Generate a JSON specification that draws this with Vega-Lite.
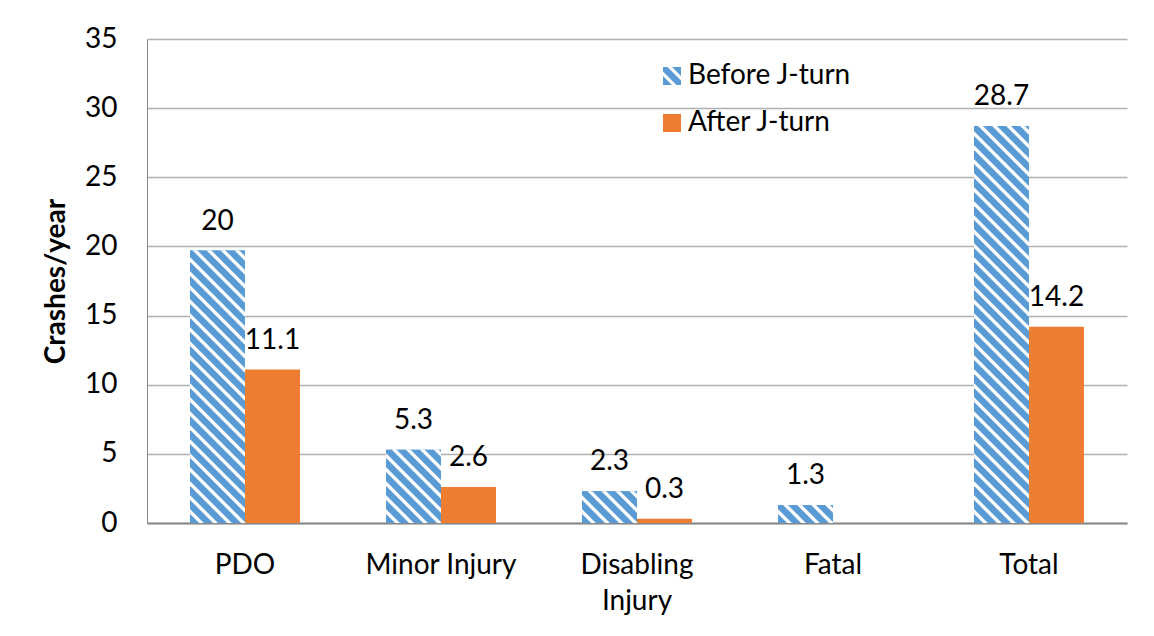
{
  "$schema": "https://vega.github.io/schema/vega-lite/v6.json",
  "autosize": "none",
  "width": 980,
  "height": 484,
  "padding": {"left": 147, "top": 39, "right": 27, "bottom": 113},
  "background": "white",
  "config": {"font": "Lato", "view": {"stroke": null}},
  "data": {"values": [
    {"category": "PDO", "period": "Before J-turn", "value": 19.7, "label": "20"},
    {"category": "PDO", "period": "After J-turn", "value": 11.1, "label": "11.1"},
    {"category": "Minor Injury", "period": "Before J-turn", "value": 5.3, "label": "5.3"},
    {"category": "Minor Injury", "period": "After J-turn", "value": 2.6, "label": "2.6"},
    {"category": "Disabling Injury", "period": "Before J-turn", "value": 2.3, "label": "2.3"},
    {"category": "Disabling Injury", "period": "After J-turn", "value": 0.3, "label": "0.3"},
    {"category": "Fatal", "period": "Before J-turn", "value": 1.3, "label": "1.3"},
    {"category": "Fatal", "period": "After J-turn", "value": 0, "label": ""},
    {"category": "Total", "period": "Before J-turn", "value": 28.7, "label": "28.7"},
    {"category": "Total", "period": "After J-turn", "value": 14.2, "label": "14.2"}
  ]},
  "encoding": {
    "x": {"field": "category", "type": "nominal",
      "sort": ["PDO", "Minor Injury", "Disabling Injury", "Fatal", "Total"],
      "scale": {"domain": ["PDO", "Minor Injury", "Disabling Injury", "Fatal", "Total"], "paddingInner": 0.43878, "paddingOuter": 0.21939},
      "axis": {"title": null, "labelAngle": 0, "domainColor": "#898989", "domainWidth": 2, "ticks": false, "tickSize": 0, "grid": false,
        "labelFontSize": 28, "labelColor": "#000000", "labelPadding": 28, "labelLineHeight": 36,
        "labelExpr": "datum.label == 'Disabling Injury' ? ['Disabling', 'Injury'] : datum.label"}},
    "xOffset": {"field": "period", "type": "nominal", "sort": ["Before J-turn", "After J-turn"],
      "scale": {"domain": ["Before J-turn", "After J-turn"], "paddingInner": 0, "paddingOuter": 0}},
    "y": {"field": "value", "type": "quantitative",
      "scale": {"domain": [0, 35], "nice": false, "zero": true},
      "axis": {"title": "Crashes/year", "values": [0, 5, 10, 15, 20, 25, 30, 35], "grid": true, "gridColor": "#B0B0B0", "gridWidth": 1.3,
        "domainColor": "#898989", "domainWidth": 1, "ticks": false, "tickSize": 0, "labelPadding": 30,
        "labelFontSize": 28, "labelColor": "#000000", "titleFontSize": 28, "titleFontWeight": "bold", "titleColor": "#000000",
        "titleX": -83, "titleY": 242, "titleAngle": 270, "titleBaseline": "alphabetic", "titleAlign": "center"}}
  },
  "layer": [
    {
      "mark": {"type": "bar"},
      "encoding": {
        "color": {"field": "period", "type": "nominal",
          "scale": {"domain": ["Before J-turn", "After J-turn"], "range": ["#5B9BD5", "#ED7D31"]},
          "legend": {"title": null, "orient": "none", "legendX": 511, "legendY": 23, "direction": "vertical",
            "symbolSize": 324, "symbolStrokeWidth": 0, "symbolOpacity": 1, "labelFontSize": 28, "labelColor": "#000000", "labelOffset": 2, "labelLimit": 0, "rowPadding": 19}}
      }
    },
    {
      "mark": {"type": "point", "filled": true, "size": 0, "opacity": 1, "strokeWidth": 0},
      "encoding": {
        "color": {"field": "period", "type": "nominal",
          "scale": {"domain": ["Before J-turn", "After J-turn"], "range": ["#5B9BD5", "#ED7D31"]},
          "legend": {"title": null, "orient": "none", "legendX": 511, "legendY": 23, "direction": "vertical",
            "symbolSize": 324, "symbolStrokeWidth": 0, "symbolOpacity": 1, "labelFontSize": 28, "labelColor": "#000000", "labelOffset": 2, "labelLimit": 0, "rowPadding": 19}},
        "shape": {"field": "period", "type": "nominal",
          "scale": {"domain": ["Before J-turn", "After J-turn"], "range": ["M-1,1L-1,0L0,1ZM-1,-0.5L-1,-1L-0.5,-1L1,0.5L1,1L0.5,1ZM0,-1L1,-1L1,0Z", "square"]},
          "legend": {"title": null, "orient": "none", "legendX": 511, "legendY": 23, "direction": "vertical",
            "symbolSize": 324, "symbolStrokeWidth": 0, "symbolOpacity": 1, "labelFontSize": 28, "labelColor": "#000000", "labelOffset": 2, "labelLimit": 0, "rowPadding": 19}}
      }
    },
    {
      "transform": [{"filter": "datum.category === 'PDO' && datum.period === 'Before J-turn'"}],
      "mark": {"type": "bar", "fill": {"gradient": "linear", "x1": 0, "y1": 1, "x2": 0.39883, "y2": -0.97528, "stops": [
{"offset":0.001,"color":"#5b9bd5"},{"offset":0.0155,"color":"#5b9bd5"},{"offset":0.017,"color":"#fff"},{"offset":0.0235,"color":"#fff"},
{"offset":0.026,"color":"#5b9bd5"},{"offset":0.0405,"color":"#5b9bd5"},{"offset":0.042,"color":"#fff"},{"offset":0.0485,"color":"#fff"},
{"offset":0.051,"color":"#5b9bd5"},{"offset":0.0655,"color":"#5b9bd5"},{"offset":0.067,"color":"#fff"},{"offset":0.0735,"color":"#fff"},
{"offset":0.076,"color":"#5b9bd5"},{"offset":0.0905,"color":"#5b9bd5"},{"offset":0.092,"color":"#fff"},{"offset":0.0985,"color":"#fff"},
{"offset":0.101,"color":"#5b9bd5"},{"offset":0.1155,"color":"#5b9bd5"},{"offset":0.117,"color":"#fff"},{"offset":0.1235,"color":"#fff"},
{"offset":0.126,"color":"#5b9bd5"},{"offset":0.1405,"color":"#5b9bd5"},{"offset":0.142,"color":"#fff"},{"offset":0.1485,"color":"#fff"},
{"offset":0.151,"color":"#5b9bd5"},{"offset":0.1655,"color":"#5b9bd5"},{"offset":0.167,"color":"#fff"},{"offset":0.1735,"color":"#fff"},
{"offset":0.176,"color":"#5b9bd5"},{"offset":0.1905,"color":"#5b9bd5"},{"offset":0.192,"color":"#fff"},{"offset":0.1985,"color":"#fff"},
{"offset":0.201,"color":"#5b9bd5"},{"offset":0.2155,"color":"#5b9bd5"},{"offset":0.217,"color":"#fff"},{"offset":0.2235,"color":"#fff"},
{"offset":0.226,"color":"#5b9bd5"},{"offset":0.2405,"color":"#5b9bd5"},{"offset":0.242,"color":"#fff"},{"offset":0.2485,"color":"#fff"},
{"offset":0.251,"color":"#5b9bd5"},{"offset":0.2655,"color":"#5b9bd5"},{"offset":0.267,"color":"#fff"},{"offset":0.2735,"color":"#fff"},
{"offset":0.276,"color":"#5b9bd5"},{"offset":0.2905,"color":"#5b9bd5"},{"offset":0.292,"color":"#fff"},{"offset":0.2985,"color":"#fff"},
{"offset":0.301,"color":"#5b9bd5"},{"offset":0.3155,"color":"#5b9bd5"},{"offset":0.317,"color":"#fff"},{"offset":0.3235,"color":"#fff"},
{"offset":0.326,"color":"#5b9bd5"},{"offset":0.3405,"color":"#5b9bd5"},{"offset":0.342,"color":"#fff"},{"offset":0.3485,"color":"#fff"},
{"offset":0.351,"color":"#5b9bd5"},{"offset":0.3655,"color":"#5b9bd5"},{"offset":0.367,"color":"#fff"},{"offset":0.3735,"color":"#fff"},
{"offset":0.376,"color":"#5b9bd5"},{"offset":0.3905,"color":"#5b9bd5"},{"offset":0.392,"color":"#fff"},{"offset":0.3985,"color":"#fff"},
{"offset":0.401,"color":"#5b9bd5"},{"offset":0.4155,"color":"#5b9bd5"},{"offset":0.417,"color":"#fff"},{"offset":0.4235,"color":"#fff"},
{"offset":0.426,"color":"#5b9bd5"},{"offset":0.4405,"color":"#5b9bd5"},{"offset":0.442,"color":"#fff"},{"offset":0.4485,"color":"#fff"},
{"offset":0.451,"color":"#5b9bd5"},{"offset":0.4655,"color":"#5b9bd5"},{"offset":0.467,"color":"#fff"},{"offset":0.4735,"color":"#fff"},
{"offset":0.476,"color":"#5b9bd5"},{"offset":0.4905,"color":"#5b9bd5"},{"offset":0.492,"color":"#fff"},{"offset":0.4985,"color":"#fff"},
{"offset":0.501,"color":"#5b9bd5"},{"offset":0.5155,"color":"#5b9bd5"},{"offset":0.517,"color":"#fff"},{"offset":0.5235,"color":"#fff"},
{"offset":0.526,"color":"#5b9bd5"},{"offset":0.5405,"color":"#5b9bd5"},{"offset":0.542,"color":"#fff"},{"offset":0.5485,"color":"#fff"},
{"offset":0.551,"color":"#5b9bd5"},{"offset":0.5655,"color":"#5b9bd5"},{"offset":0.567,"color":"#fff"},{"offset":0.5735,"color":"#fff"},
{"offset":0.576,"color":"#5b9bd5"},{"offset":0.5905,"color":"#5b9bd5"},{"offset":0.592,"color":"#fff"},{"offset":0.5985,"color":"#fff"}
      ]}}
    },
    {
      "transform": [{"filter": "datum.category === 'Minor Injury' && datum.period === 'Before J-turn'"}],
      "mark": {"type": "bar", "fill": {"gradient": "linear", "x1": 0, "y1": 1, "x2": 3.66758, "y2": -3.88789, "stops": [
{"offset":0.001,"color":"#5b9bd5"},{"offset":0.0155,"color":"#5b9bd5"},{"offset":0.017,"color":"#fff"},{"offset":0.0235,"color":"#fff"},
{"offset":0.026,"color":"#5b9bd5"},{"offset":0.0405,"color":"#5b9bd5"},{"offset":0.042,"color":"#fff"},{"offset":0.0485,"color":"#fff"},
{"offset":0.051,"color":"#5b9bd5"},{"offset":0.0655,"color":"#5b9bd5"},{"offset":0.067,"color":"#fff"},{"offset":0.0735,"color":"#fff"},
{"offset":0.076,"color":"#5b9bd5"},{"offset":0.0905,"color":"#5b9bd5"},{"offset":0.092,"color":"#fff"},{"offset":0.0985,"color":"#fff"},
{"offset":0.101,"color":"#5b9bd5"},{"offset":0.1155,"color":"#5b9bd5"},{"offset":0.117,"color":"#fff"},{"offset":0.1235,"color":"#fff"},
{"offset":0.126,"color":"#5b9bd5"},{"offset":0.1405,"color":"#5b9bd5"},{"offset":0.142,"color":"#fff"},{"offset":0.1485,"color":"#fff"},
{"offset":0.151,"color":"#5b9bd5"},{"offset":0.1655,"color":"#5b9bd5"},{"offset":0.167,"color":"#fff"},{"offset":0.1735,"color":"#fff"},
{"offset":0.176,"color":"#5b9bd5"},{"offset":0.1905,"color":"#5b9bd5"},{"offset":0.192,"color":"#fff"},{"offset":0.1985,"color":"#fff"},
{"offset":0.201,"color":"#5b9bd5"},{"offset":0.2155,"color":"#5b9bd5"},{"offset":0.217,"color":"#fff"},{"offset":0.2235,"color":"#fff"},
{"offset":0.226,"color":"#5b9bd5"},{"offset":0.2405,"color":"#5b9bd5"},{"offset":0.242,"color":"#fff"},{"offset":0.2485,"color":"#fff"}
      ]}}
    },
    {
      "transform": [{"filter": "datum.category === 'Disabling Injury' && datum.period === 'Before J-turn'"}],
      "mark": {"type": "bar", "fill": {"gradient": "linear", "x1": 0, "y1": 1, "x2": 7.63094, "y2": -3.41207, "stops": [
{"offset":0.001,"color":"#5b9bd5"},{"offset":0.0155,"color":"#5b9bd5"},{"offset":0.017,"color":"#fff"},{"offset":0.0235,"color":"#fff"},
{"offset":0.026,"color":"#5b9bd5"},{"offset":0.0405,"color":"#5b9bd5"},{"offset":0.042,"color":"#fff"},{"offset":0.0485,"color":"#fff"},
{"offset":0.051,"color":"#5b9bd5"},{"offset":0.0655,"color":"#5b9bd5"},{"offset":0.067,"color":"#fff"},{"offset":0.0735,"color":"#fff"},
{"offset":0.076,"color":"#5b9bd5"},{"offset":0.0905,"color":"#5b9bd5"},{"offset":0.092,"color":"#fff"},{"offset":0.0985,"color":"#fff"},
{"offset":0.101,"color":"#5b9bd5"},{"offset":0.1155,"color":"#5b9bd5"},{"offset":0.117,"color":"#fff"},{"offset":0.1235,"color":"#fff"},
{"offset":0.126,"color":"#5b9bd5"},{"offset":0.1405,"color":"#5b9bd5"},{"offset":0.142,"color":"#fff"},{"offset":0.1485,"color":"#fff"},
{"offset":0.151,"color":"#5b9bd5"},{"offset":0.1655,"color":"#5b9bd5"},{"offset":0.167,"color":"#fff"},{"offset":0.1735,"color":"#fff"}
      ]}}
    },
    {
      "transform": [{"filter": "datum.category === 'Fatal' && datum.period === 'Before J-turn'"}],
      "mark": {"type": "bar", "fill": {"gradient": "linear", "x1": 0, "y1": 1, "x2": 9.19678, "y2": -2.00985, "stops": [
{"offset":0.001,"color":"#5b9bd5"},{"offset":0.0155,"color":"#5b9bd5"},{"offset":0.017,"color":"#fff"},{"offset":0.0235,"color":"#fff"},
{"offset":0.026,"color":"#5b9bd5"},{"offset":0.0405,"color":"#5b9bd5"},{"offset":0.042,"color":"#fff"},{"offset":0.0485,"color":"#fff"},
{"offset":0.051,"color":"#5b9bd5"},{"offset":0.0655,"color":"#5b9bd5"},{"offset":0.067,"color":"#fff"},{"offset":0.0735,"color":"#fff"},
{"offset":0.076,"color":"#5b9bd5"},{"offset":0.0905,"color":"#5b9bd5"},{"offset":0.092,"color":"#fff"},{"offset":0.0985,"color":"#fff"},
{"offset":0.101,"color":"#5b9bd5"},{"offset":0.1155,"color":"#5b9bd5"},{"offset":0.117,"color":"#fff"},{"offset":0.1235,"color":"#fff"},
{"offset":0.126,"color":"#5b9bd5"},{"offset":0.1405,"color":"#5b9bd5"},{"offset":0.142,"color":"#fff"},{"offset":0.1485,"color":"#fff"}
      ]}}
    },
    {
      "transform": [{"filter": "datum.category === 'Total' && datum.period === 'Before J-turn'"}],
      "mark": {"type": "bar", "fill": {"gradient": "linear", "x1": 0, "y1": 1, "x2": 0.19183, "y2": -0.38435, "stops": [
{"offset":0.001,"color":"#5b9bd5"},{"offset":0.0155,"color":"#5b9bd5"},{"offset":0.017,"color":"#fff"},{"offset":0.0235,"color":"#fff"},
{"offset":0.026,"color":"#5b9bd5"},{"offset":0.0405,"color":"#5b9bd5"},{"offset":0.042,"color":"#fff"},{"offset":0.0485,"color":"#fff"},
{"offset":0.051,"color":"#5b9bd5"},{"offset":0.0655,"color":"#5b9bd5"},{"offset":0.067,"color":"#fff"},{"offset":0.0735,"color":"#fff"},
{"offset":0.076,"color":"#5b9bd5"},{"offset":0.0905,"color":"#5b9bd5"},{"offset":0.092,"color":"#fff"},{"offset":0.0985,"color":"#fff"},
{"offset":0.101,"color":"#5b9bd5"},{"offset":0.1155,"color":"#5b9bd5"},{"offset":0.117,"color":"#fff"},{"offset":0.1235,"color":"#fff"},
{"offset":0.126,"color":"#5b9bd5"},{"offset":0.1405,"color":"#5b9bd5"},{"offset":0.142,"color":"#fff"},{"offset":0.1485,"color":"#fff"},
{"offset":0.151,"color":"#5b9bd5"},{"offset":0.1655,"color":"#5b9bd5"},{"offset":0.167,"color":"#fff"},{"offset":0.1735,"color":"#fff"},
{"offset":0.176,"color":"#5b9bd5"},{"offset":0.1905,"color":"#5b9bd5"},{"offset":0.192,"color":"#fff"},{"offset":0.1985,"color":"#fff"},
{"offset":0.201,"color":"#5b9bd5"},{"offset":0.2155,"color":"#5b9bd5"},{"offset":0.217,"color":"#fff"},{"offset":0.2235,"color":"#fff"},
{"offset":0.226,"color":"#5b9bd5"},{"offset":0.2405,"color":"#5b9bd5"},{"offset":0.242,"color":"#fff"},{"offset":0.2485,"color":"#fff"},
{"offset":0.251,"color":"#5b9bd5"},{"offset":0.2655,"color":"#5b9bd5"},{"offset":0.267,"color":"#fff"},{"offset":0.2735,"color":"#fff"},
{"offset":0.276,"color":"#5b9bd5"},{"offset":0.2905,"color":"#5b9bd5"},{"offset":0.292,"color":"#fff"},{"offset":0.2985,"color":"#fff"},
{"offset":0.301,"color":"#5b9bd5"},{"offset":0.3155,"color":"#5b9bd5"},{"offset":0.317,"color":"#fff"},{"offset":0.3235,"color":"#fff"},
{"offset":0.326,"color":"#5b9bd5"},{"offset":0.3405,"color":"#5b9bd5"},{"offset":0.342,"color":"#fff"},{"offset":0.3485,"color":"#fff"},
{"offset":0.351,"color":"#5b9bd5"},{"offset":0.3655,"color":"#5b9bd5"},{"offset":0.367,"color":"#fff"},{"offset":0.3735,"color":"#fff"},
{"offset":0.376,"color":"#5b9bd5"},{"offset":0.3905,"color":"#5b9bd5"},{"offset":0.392,"color":"#fff"},{"offset":0.3985,"color":"#fff"},
{"offset":0.401,"color":"#5b9bd5"},{"offset":0.4155,"color":"#5b9bd5"},{"offset":0.417,"color":"#fff"},{"offset":0.4235,"color":"#fff"},
{"offset":0.426,"color":"#5b9bd5"},{"offset":0.4405,"color":"#5b9bd5"},{"offset":0.442,"color":"#fff"},{"offset":0.4485,"color":"#fff"},
{"offset":0.451,"color":"#5b9bd5"},{"offset":0.4655,"color":"#5b9bd5"},{"offset":0.467,"color":"#fff"},{"offset":0.4735,"color":"#fff"},
{"offset":0.476,"color":"#5b9bd5"},{"offset":0.4905,"color":"#5b9bd5"},{"offset":0.492,"color":"#fff"},{"offset":0.4985,"color":"#fff"},
{"offset":0.501,"color":"#5b9bd5"},{"offset":0.5155,"color":"#5b9bd5"},{"offset":0.517,"color":"#fff"},{"offset":0.5235,"color":"#fff"},
{"offset":0.526,"color":"#5b9bd5"},{"offset":0.5405,"color":"#5b9bd5"},{"offset":0.542,"color":"#fff"},{"offset":0.5485,"color":"#fff"},
{"offset":0.551,"color":"#5b9bd5"},{"offset":0.5655,"color":"#5b9bd5"},{"offset":0.567,"color":"#fff"},{"offset":0.5735,"color":"#fff"},
{"offset":0.576,"color":"#5b9bd5"},{"offset":0.5905,"color":"#5b9bd5"},{"offset":0.592,"color":"#fff"},{"offset":0.5985,"color":"#fff"},
{"offset":0.601,"color":"#5b9bd5"},{"offset":0.6155,"color":"#5b9bd5"},{"offset":0.617,"color":"#fff"},{"offset":0.6235,"color":"#fff"},
{"offset":0.626,"color":"#5b9bd5"},{"offset":0.6405,"color":"#5b9bd5"},{"offset":0.642,"color":"#fff"},{"offset":0.6485,"color":"#fff"},
{"offset":0.651,"color":"#5b9bd5"},{"offset":0.6655,"color":"#5b9bd5"},{"offset":0.667,"color":"#fff"},{"offset":0.6735,"color":"#fff"},
{"offset":0.676,"color":"#5b9bd5"},{"offset":0.6905,"color":"#5b9bd5"},{"offset":0.692,"color":"#fff"},{"offset":0.6985,"color":"#fff"},
{"offset":0.701,"color":"#5b9bd5"},{"offset":0.7155,"color":"#5b9bd5"},{"offset":0.717,"color":"#fff"},{"offset":0.7235,"color":"#fff"},
{"offset":0.726,"color":"#5b9bd5"},{"offset":0.7405,"color":"#5b9bd5"},{"offset":0.742,"color":"#fff"},{"offset":0.7485,"color":"#fff"},
{"offset":0.751,"color":"#5b9bd5"},{"offset":0.7655,"color":"#5b9bd5"},{"offset":0.767,"color":"#fff"},{"offset":0.7735,"color":"#fff"},
{"offset":0.776,"color":"#5b9bd5"},{"offset":0.7905,"color":"#5b9bd5"},{"offset":0.792,"color":"#fff"},{"offset":0.7985,"color":"#fff"},
{"offset":0.801,"color":"#5b9bd5"},{"offset":0.8155,"color":"#5b9bd5"},{"offset":0.817,"color":"#fff"},{"offset":0.8235,"color":"#fff"}
      ]}}
    },
    {
      "mark": {"type": "text", "baseline": "alphabetic", "align": "center", "dy": -21, "fontSize": 28, "color": "#000000"},
      "encoding": {"text": {"field": "label", "type": "nominal"}}
    }
  ]
}
